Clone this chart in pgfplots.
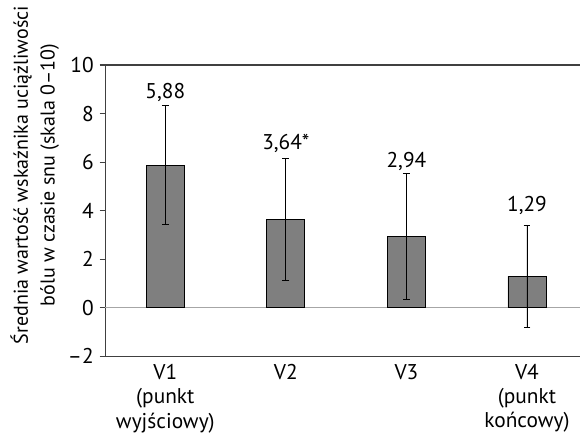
\documentclass[border=0pt]{standalone}
\usepackage{fontspec}
\setmainfont{PT Sans}
\usepackage{pgfplots}
\pgfplotsset{compat=1.18}
\definecolor{barfill}{HTML}{7F7F7F}
\definecolor{axisgray}{HTML}{404040}
\definecolor{zerogray}{HTML}{A6A6A6}
\begin{document}
\begin{tikzpicture}[font=\fontsize{16}{19}\selectfont]
\begin{axis}[
  scale only axis, width=356pt, height=218.25pt,
  xmin=-0.5, xmax=3.44, ymin=-2, ymax=10,
  axis x line*=box, axis y line*=left,
  axis line style={axisgray, line width=0.8pt},
  ytick={-2,0,2,4,6,8,10},
  yticklabels={--2,0,2,4,6,8,10},
  yticklabel style={xshift=-1pt},
  xtick={0,1,2,3},
  xticklabels={{V1\\(punkt\\wyjściowy)}, V2, V3, {V4\\(punkt\\końcowy)}},
  xticklabel style={align=center, anchor=north, yshift=1.5pt, font=\fontsize{16}{18.2}\selectfont},
  x tick style={draw=none},
  y tick style={axisgray, line width=0.8pt},
  tick align=outside,
  major tick length=4pt,
  ylabel={Średnia wartość wskaźnika uciążliwości\\bólu w czasie snu (skala 0--10)},
  ylabel style={align=center, at={([xshift=-31pt]axis description cs:0,0.622)}, anchor=south,
    font=\fontsize{15}{20}\selectfont},
  clip=false,
]
\addplot[zerogray, line width=0.8pt, mark=none, forget plot] coordinates {(-0.5,0) (3.44,0)};
\addplot[ybar, bar width=0.315, fill=barfill, draw=black, line width=0.6pt,
  error bars/.cd, y dir=both, y explicit,
  error bar style={black, line width=0.6pt},
  error mark options={rotate=90, mark size=2.6pt, line width=0.6pt}]
  coordinates {(0,5.88) +- (0,2.45) (1,3.64) +- (0,2.52) (2,2.94) +- (0,2.60) (3,1.29) +- (0,2.12)};
\addplot[draw=none, mark=none, nodes near coords, point meta=explicit symbolic,
  nodes near coords style={anchor=base, black}]
  coordinates {(0,8.64) [{5,88}] (1,6.53) [{3,64*}] (2,5.79) [{2,94}] (3,3.97) [{1,29}]};
\end{axis}
\pgfresetboundingbox
\path ([xshift=-78.75pt, yshift=-58.5pt]current axis.south west) rectangle ([yshift=48.75pt]current axis.north east);
\end{tikzpicture}
\end{document}
